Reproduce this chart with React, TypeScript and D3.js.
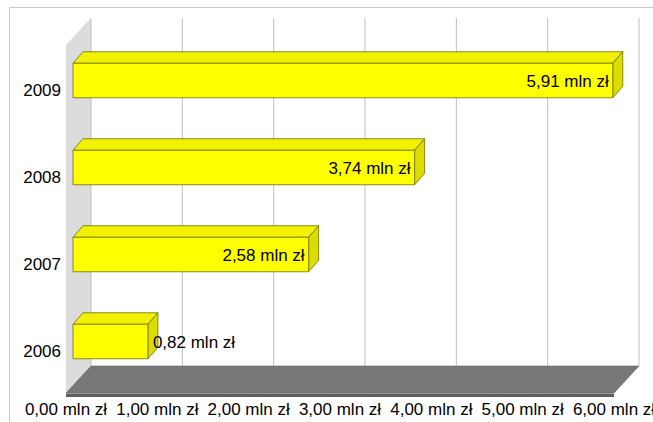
import React from "react";
import * as d3 from "d3";

const categories = ["2009", "2008", "2007", "2006"];
const values = [5.91, 3.74, 2.58, 0.82];
const xTicks = [0, 1, 2, 3, 4, 5, 6];

const fmt = (v: number) => v.toFixed(2).replace(".", ",") + " mln zł";

export default function App() {
  const W = 653, H = 422;
  const font = "'Liberation Sans', Arial, sans-serif";
  // front plane geometry
  const fx0 = 66, fyTop = 45, fyBot = 393;
  const depth = { dx: 25, dy: -27 };
  const x = d3.scaleLinear().domain([0, 6]).range([0, 548]);
  const y = d3.scaleBand().domain(categories).range([fyTop, fyBot]).paddingInner(0).paddingOuter(0);
  const barH = 34.5;
  const barFront = { dx: 7, dy: -8 };
  const barDepth = { dx: 10, dy: -11.5 };

  const bx = fx0 + depth.dx; // back plane x0
  const byBot = fyBot + depth.dy;
  const byTop = 18;

  return (
    <svg width={W} height={H} style={{ display: "block", position: "absolute", left: 0, top: 0 }}>
      <rect x={0} y={0} width={W} height={H} fill="#fff" />
      <rect x={9.5} y={7.5} width={700} height={500} fill="none" stroke="#c8c8c8" strokeWidth={1} />
      {/* side wall */}
      <polygon
        points={`${fx0},${fyTop} ${bx},${byTop} ${bx},${byBot} ${fx0},${fyBot}`}
        fill="#dcdcdc"
      />
      {/* gridlines on back wall */}
      {xTicks.map((t) => (
        <line key={t} x1={bx + x(t)} x2={bx + x(t)} y1={byTop} y2={byBot} stroke="#c0c0c0" strokeWidth={1} />
      ))}
      {/* floor */}
      <polygon
        points={`${fx0},${fyBot} ${bx},${byBot} ${bx + x(6)},${byBot} ${fx0 + x(6)},${fyBot}`}
        fill="#777777"
        stroke="#6a6a6a"
        strokeWidth={0.6}
      />
      <rect x={fx0} y={fyBot} width={x(6)} height={4} fill="#5e5e5e" />
      <line x1={fx0} x2={fx0 + x(6)} y1={fyBot + 0.5} y2={fyBot + 0.5} stroke="#9a9a9a" strokeWidth={1} />
      {/* bars */}
      {categories.map((c, i) => {
        const v = values[i];
        const cy = (y(c) as number) + y.bandwidth() / 2 + barFront.dy;
        const x0 = fx0 + barFront.dx;
        const x1 = x0 + x(v);
        const y0 = cy - barH / 2;
        const y1 = cy + barH / 2;
        const ddx = barDepth.dx, ddy = barDepth.dy;
        const inside = x(v) > 95;
        return (
          <g key={c} stroke="#6f6f00" strokeWidth={0.8} strokeLinejoin="round">
            <polygon points={`${x0},${y0} ${x0 + ddx},${y0 + ddy} ${x1 + ddx},${y0 + ddy} ${x1},${y0}`} fill="#f2f200" />
            <polygon points={`${x1},${y0} ${x1 + ddx},${y0 + ddy} ${x1 + ddx},${y1 + ddy} ${x1},${y1}`} fill="#dcdc00" />
            <rect x={x0} y={y0} width={x1 - x0} height={barH} fill="#ffff00" />
            <text
              x={inside ? x1 - 4 : x1 + 5}
              y={cy}
              dy="0.36em"
              textAnchor={inside ? "end" : "start"}
              fontFamily={font}
              fontSize={17}
              fill="#000"
              stroke="none"
            >
              {fmt(v)}
            </text>
          </g>
        );
      })}
      {/* category labels */}
      {categories.map((c) => (
        <text
          key={c}
          x={61}
          y={(y(c) as number) + y.bandwidth() / 2 + 1.5}
          dy="0.36em"
          textAnchor="end"
          fontFamily={font}
          fontSize={17}
          fill="#000"
        >
          {c}
        </text>
      ))}
      {/* x labels */}
      {xTicks.map((t) => (
        <text key={t} x={fx0 + x(t)} y={415} textAnchor="middle" fontFamily={font} fontSize={17} fill="#000">
          {fmt(t)}
        </text>
      ))}
    </svg>
  );
}
